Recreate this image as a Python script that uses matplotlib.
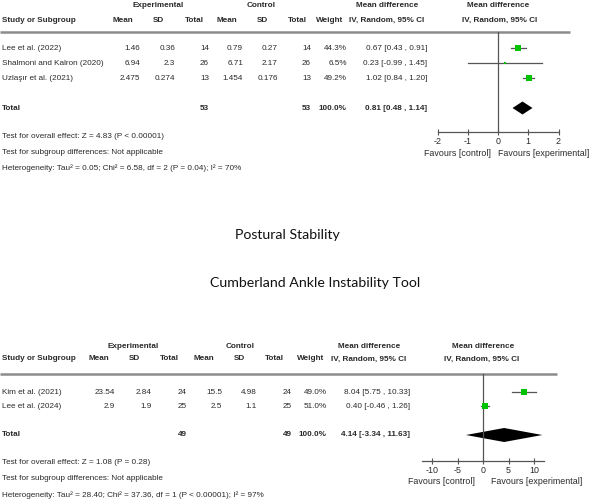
import matplotlib
matplotlib.use("Agg")
import matplotlib.pyplot as plt
from matplotlib import font_manager

# ---------------- data ----------------
top_studies = ["Lee et al. (2022)", "Shalmoni and Kalron (2020)", "Uzlaşır et al. (2021)"]
top_exp_mean = ["1.46", "6.94", "2.475"]
top_exp_sd = ["0.36", "2.3", "0.274"]
top_exp_n = [14, 26, 13]
top_ctl_mean = ["0.79", "6.71", "1.454"]
top_ctl_sd = ["0.27", "2.17", "0.176"]
top_ctl_n = [14, 26, 13]
top_weight = [44.3, 6.5, 49.2]
top_md = [0.67, 0.23, 1.02]
top_lo = [0.43, -0.99, 0.84]
top_hi = [0.91, 1.45, 1.20]
top_total = {"exp_n": 53, "ctl_n": 53, "md": 0.81, "lo": 0.48, "hi": 1.14}
top_ticks = [-2, -1, 0, 1, 2]
top_notes = ["Test for overall effect: Z = 4.83 (P < 0.00001)",
             "Test for subgroup differences: Not applicable",
             "Heterogeneity: Tau² = 0.05; Chi² = 6.58, df = 2 (P = 0.04); I² = 70%"]

bot_studies = ["Kim et al. (2021)", "Lee et al. (2024)"]
bot_exp_mean = ["23.54", "2.9"]
bot_exp_sd = ["2.84", "1.9"]
bot_exp_n = [24, 25]
bot_ctl_mean = ["15.5", "2.5"]
bot_ctl_sd = ["4.98", "1.1"]
bot_ctl_n = [24, 25]
bot_weight = [49.0, 51.0]
bot_md = [8.04, 0.40]
bot_lo = [5.75, -0.46]
bot_hi = [10.33, 1.26]
bot_total = {"exp_n": 49, "ctl_n": 49, "md": 4.14, "lo": -3.34, "hi": 11.63}
bot_ticks = [-10, -5, 0, 5, 10]
bot_notes = ["Test for overall effect: Z = 1.08 (P = 0.28)",
             "Test for subgroup differences: Not applicable",
             "Heterogeneity: Tau² = 28.40; Chi² = 37.36, df = 1 (P < 0.00001); I² = 97%"]

title1 = "Postural Stability"
title2 = "Cumberland Ankle Instability Tool"

# ---------------- style ----------------
W, H = 592, 503
names = {f.name for f in font_manager.fontManager.ttflist}
TF = ["Liberation Sans Narrow", "Liberation Sans", "DejaVu Sans"]
TF = [f for f in TF if f in names] or ["DejaVu Sans"]
TF = TF + ["DejaVu Sans"]
FS = 5.9
AFS = 6.4
TXT = "#2a2a2a"
GREEN = "#00c400"
LINE = "#555555"

fig = plt.figure(figsize=(W / 100, H / 100), dpi=100)
fig.patch.set_facecolor("white")
ov = fig.add_axes([0, 0, 1, 1])
ov.set_xlim(0, W)
ov.set_ylim(H, 0)
ov.axis("off")


def t(x, y, s, ha="left", bold=False, size=FS, family=None, color=TXT):
    ov.text(x, y, s, ha=ha, va="center", fontsize=size,
            fontweight="bold" if bold else "normal",
            family=family or TF, color=color)


def ci(md, lo, hi):
    return f"{md:.2f} [{lo:.2f} , {hi:.2f}]"


def panel(cfg):
    y0 = cfg["y_group"]
    yh = cfg["y_head"]
    # group headers
    t(cfg["c_exp"], y0, "Experimental", ha="center", bold=True)
    t(cfg["c_ctl"], y0, "Control", ha="center", bold=True)
    t(cfg["c_ci"], y0, "Mean difference", ha="center", bold=True)
    t(cfg["c_plot"], y0, "Mean difference", ha="center", bold=True)
    t(2, yh, "Study or Subgroup", bold=True)
    for x, s in zip(cfg["c_cols"], ["Mean", "SD", "Total", "Mean", "SD", "Total", "Weight"]):
        t(x, yh, s, ha="center", bold=True)
    t(cfg["c_ci"], yh, "IV, Random, 95% CI", ha="center", bold=True)
    t(cfg["c_plot2"], yh, "IV, Random, 95% CI", ha="center", bold=True)
    ov.plot([0, cfg["line_end"]], [cfg["y_line"]] * 2, color="#8c8c8c", lw=1.8,
            solid_capstyle="butt")
    d = cfg["data"]
    R = cfg["r_cols"]
    for i, y in enumerate(cfg["rows"]):
        t(2, y, d["studies"][i])
        vals = [d["em"][i], d["esd"][i], str(d["en"][i]), d["cm"][i], d["csd"][i],
                str(d["cn"][i]), f"{d['w'][i]:.1f}%", ci(d["md"][i], d["lo"][i], d["hi"][i])]
        for x, s in zip(R, vals):
            t(x, y, s, ha="right")
    yt = cfg["y_total"]
    tot = d["tot"]
    t(2, yt, "Total", bold=True)
    t(R[2], yt, str(tot["exp_n"]), ha="right", bold=True)
    t(R[5], yt, str(tot["ctl_n"]), ha="right", bold=True)
    t(R[6], yt, "100.0%", ha="right", bold=True)
    t(R[7], yt, ci(tot["md"], tot["lo"], tot["hi"]), ha="right", bold=True)
    for y, s in zip(cfg["notes_y"], d["notes"]):
        t(2, y, s)

    # forest plot axes: y in figure pixel units, x in data units
    px_unit = cfg["px_unit"]
    x0 = cfg["zero_px"]
    lim = cfg["xlim"]
    left = x0 + lim[0] * px_unit
    width = (lim[1] - lim[0]) * px_unit
    ax = fig.add_axes([left / W, 0, width / W, 1])
    ax.set_xlim(*lim)
    ax.set_ylim(H, 0)
    ax.patch.set_alpha(0)
    for s in ["top", "left", "right"]:
        ax.spines[s].set_visible(False)
    ax.spines["bottom"].set_position(("data", cfg["y_axis"]))
    ax.spines["bottom"].set_bounds(lim[0], lim[1])
    ax.spines["bottom"].set_color(LINE)
    ax.spines["bottom"].set_linewidth(0.9)
    ax.set_yticks([])
    ax.set_xticks(d["ticks"])
    ax.set_xticklabels([str(v) for v in d["ticks"]], family=TF, fontsize=AFS, color=TXT)
    ax.tick_params(axis="x", direction="inout", length=5, width=0.8, color=LINE, pad=1)
    ax.plot([0, 0], [cfg["y_line"], cfg["y_axis"]], color=LINE, lw=0.9, clip_on=False)
    for i, y in enumerate(cfg["rows"]):
        ax.plot([d["lo"][i], d["hi"][i]], [y, y], color=LINE, lw=0.9, clip_on=False)
        ax.plot([d["md"][i]], [y], marker="s", ms=cfg["ms"] * d["w"][i] ** 0.5,
                color=GREEN, mec=GREEN, mew=0, clip_on=False, zorder=3)
    hh = cfg["dh"]
    ax.fill([tot["lo"], tot["md"], tot["hi"], tot["md"]], [yt, yt - hh, yt, yt + hh],
            color="black", lw=0, clip_on=False)
    t(cfg["fav_c"], cfg["y_fav"], "Favours [control]", ha="center", size=AFS)
    t(cfg["fav_e"], cfg["y_fav"], "Favours [experimental]", ha="center", size=AFS)


top_cfg = dict(
    y_group=5, y_head=20, y_line=32, rows=[48, 63, 78], y_total=108,
    notes_y=[137, 152, 168], y_axis=132, y_fav=153,
    c_exp=158, c_ctl=261, c_ci=387, c_plot=498, c_plot2=500,
    c_cols=[123, 158, 194, 227, 262, 297, 330],
    r_cols=[140, 175, 209, 243, 278, 311, 347, 427],
    line_end=570, px_unit=30.25, zero_px=498, xlim=(-2, 2), ms=0.62, dh=6.5,
    fav_c=457, fav_e=544,
    data=dict(studies=top_studies, em=top_exp_mean, esd=top_exp_sd, en=top_exp_n,
              cm=top_ctl_mean, csd=top_ctl_sd, cn=top_ctl_n, w=top_weight,
              md=top_md, lo=top_lo, hi=top_hi, tot=top_total, ticks=top_ticks,
              notes=top_notes),
)

bot_cfg = dict(
    y_group=346, y_head=359, y_line=374, rows=[392, 406], y_total=435,
    notes_y=[463, 479, 495], y_axis=461, y_fav=482,
    c_exp=133, c_ctl=240, c_ci=369, c_plot=483, c_plot2=482,
    c_cols=[99, 134, 169, 204, 239, 274, 311],
    r_cols=[115, 152, 187, 222, 257, 292, 327, 410],
    line_end=557, px_unit=5.1, zero_px=483, xlim=(-12, 12), ms=0.62, dh=7,
    fav_c=441, fav_e=537,
    data=dict(studies=bot_studies, em=bot_exp_mean, esd=bot_exp_sd, en=bot_exp_n,
              cm=bot_ctl_mean, csd=bot_ctl_sd, cn=bot_ctl_n, w=bot_weight,
              md=bot_md, lo=bot_lo, hi=bot_hi, tot=bot_total, ticks=bot_ticks,
              notes=bot_notes),
)

panel(top_cfg)
panel(bot_cfg)

TITLE_F = ["Lato", "Open Sans", "DejaVu Sans"]
t(287, 235, title1, ha="center", size=10.2, family=TITLE_F, color="#111111")
t(315, 283, title2, ha="center", size=10.2, family=TITLE_F, color="#111111")

fig.savefig("out.png", dpi=100, facecolor="white")
